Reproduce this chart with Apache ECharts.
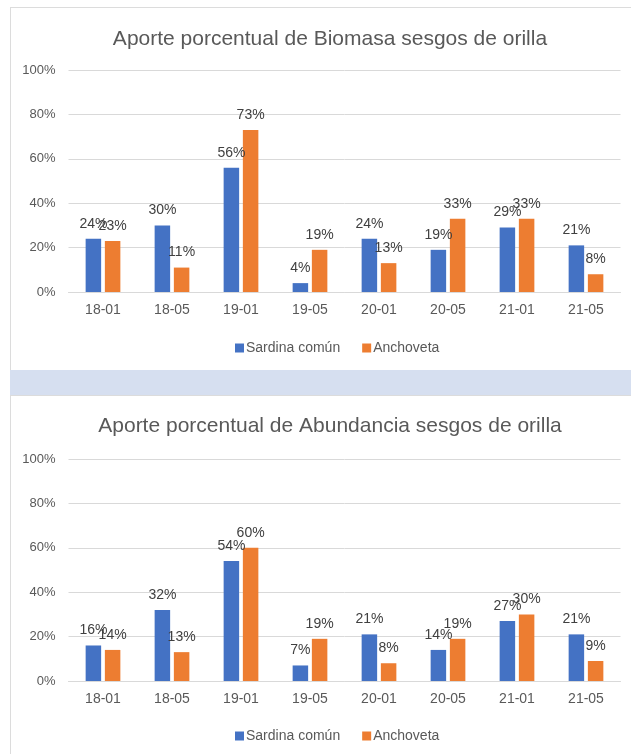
<!DOCTYPE html>
<html>
<head>
<meta charset="utf-8">
<script src="https://cdn.jsdelivr.net/npm/echarts@6/dist/echarts.min.js"></script>
<style>
    html, body { margin: 0; padding: 0; background: #ffffff; }
    .panel { position: absolute; left: 10px; width: 621px; border-left: 1px solid #dcdcdc; border-top: 1px solid #dcdcdc; box-sizing: border-box; background: #ffffff; }
    .band { position: absolute; left: 10px; top: 370px; width: 621px; height: 25px; background: #d6dff0; }
    .chart-box { position: absolute; left: 0; width: 631px; }
</style>
</head>
<body>
<div class="panel" style="top:7px;height:363px;"></div>
<div class="band"></div>
<div class="panel" style="top:395px;height:359px;"></div>
<div class="chart-box" style="top:0;height:370px;"></div>
<div class="chart-box" style="top:395px;height:359px;"></div>
<script>
(function (window) {
    var categories = ['18-01', '18-05', '19-01', '19-05', '20-01', '20-05', '21-01', '21-05'];
    var seriesNames = ['Sardina común', 'Anchoveta'];

    // Biomasa (%)
    var biomasaSardina = [24, 30, 56, 4, 24, 19, 29, 21];
    var biomasaAnchoveta = [23, 11, 73, 19, 13, 33, 33, 8];

    // Abundancia (%)
    var abundanciaSardina = [16, 32, 54, 7, 21, 14, 27, 21];
    var abundanciaAnchoveta = [14, 13, 60, 19, 8, 19, 30, 9];

    var yTicks = [0, 20, 40, 60, 80, 100];

    var colors = ['#4472c4', '#ed7d31'];
    var font = 'Liberation Sans, Arial, sans-serif';

    function barSeries(name, data, color) {
        return {
            name: name,
            type: 'bar',
            data: data,
            barWidth: 15.5,
            barGap: '24%',
            itemStyle: { color: color },
            label: {
                show: true,
                position: 'top',
                distance: 8,
                formatter: '{c}%',
                color: '#404040',
                fontSize: 14,
                fontFamily: font
            }
        };
    }

    function drawChart(dom, title, sardina, anchoveta, layout) {
        var chart = echarts.init(dom, null, { renderer: 'canvas' });
        chart.setOption({
            animation: false,
            title: {
                text: title,
                left: 325,
                textAlign: 'center',
                top: layout.titleTop,
                textStyle: { color: '#595959', fontSize: 21, fontWeight: 'normal', fontFamily: font }
            },
            legend: {
                data: seriesNames,
                left: 230,
                top: layout.legendTop,
                itemWidth: 9,
                itemHeight: 9,
                itemGap: 22,
                icon: 'rect',
                textStyle: { color: '#595959', fontSize: 14, fontFamily: font, padding: [0, 0, 0, -3] }
            },
            grid: {
                left: 68.5,
                right: 10.5,
                top: layout.gridTop,
                height: 222,
                containLabel: false
            },
            xAxis: {
                type: 'category',
                data: categories,
                axisLine: { lineStyle: { color: '#d9d9d9' } },
                axisTick: { show: false },
                axisLabel: { color: '#595959', fontSize: 14, fontFamily: font, margin: 11 }
            },
            yAxis: {
                type: 'value',
                min: yTicks[0],
                max: yTicks[yTicks.length - 1],
                interval: 20,
                axisLine: { show: false },
                axisTick: { show: false },
                splitLine: { lineStyle: { color: '#d9d9d9' } },
                axisLabel: { color: '#595959', fontSize: 13, fontFamily: font, margin: 13, formatter: '{value}%' }
            },
            series: [
                barSeries(seriesNames[0], sardina, colors[0]),
                barSeries(seriesNames[1], anchoveta, colors[1])
            ]
        });
    }

    var boxes = document.querySelectorAll('.chart-box');
    drawChart(boxes[0], 'Aporte porcentual de Biomasa sesgos de orilla', biomasaSardina, biomasaAnchoveta,
        { titleTop: 24, gridTop: 70, legendTop: 336 });
    drawChart(boxes[1], 'Aporte porcentual de Abundancia sesgos de orilla', abundanciaSardina, abundanciaAnchoveta,
        { titleTop: 16, gridTop: 64, legendTop: 329 });
})(window);
</script>
</body>
</html>
